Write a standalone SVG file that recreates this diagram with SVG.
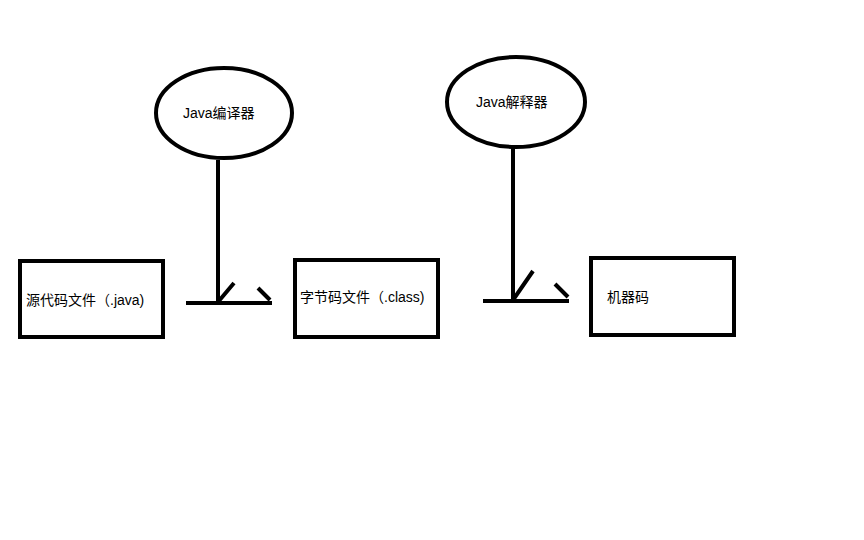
<svg xmlns="http://www.w3.org/2000/svg" width="864" height="540" viewBox="0 0 864 540">
<style>
.s{fill:none;stroke:#000;stroke-width:4}
.t{font-family:"Liberation Sans","Noto Sans CJK SC",sans-serif;font-size:14px;fill:#000}
</style>
<rect width="864" height="540" fill="#fff"/>
<g id="compiler"><ellipse class="s" cx="224" cy="113" rx="68" ry="45"/><text class="t" x="183" y="118">Java编译器</text></g>
<g id="interpreter"><ellipse class="s" cx="516" cy="102" rx="69" ry="45"/><text class="t" x="476" y="107">Java解释器</text></g>
<g id="source"><rect class="s" x="20" y="261" width="143" height="76"/><text class="t" x="26" y="305">源代码文件（.java)</text></g>
<g id="bytecode"><rect class="s" x="295" y="260" width="143" height="77"/><text class="t" x="300" y="302">字节码文件（.class)</text></g>
<g id="machine"><rect class="s" x="591" y="258" width="143" height="77"/><text class="t" x="607" y="302">机器码</text></g>
<g id="connectors">
<path class="s" stroke-width="3" d="M186 303H272"/>
<path class="s" d="M218 160V303M218 302L234 283"/>
<path class="s" stroke-width="3" d="M258 288L270 300"/>
<path class="s" stroke-width="3" d="M483 301H569"/>
<path class="s" d="M513 147V301M513 300L533 271"/>
<path class="s" stroke-width="3" d="M555 284L568 297"/>
</g>
</svg>
